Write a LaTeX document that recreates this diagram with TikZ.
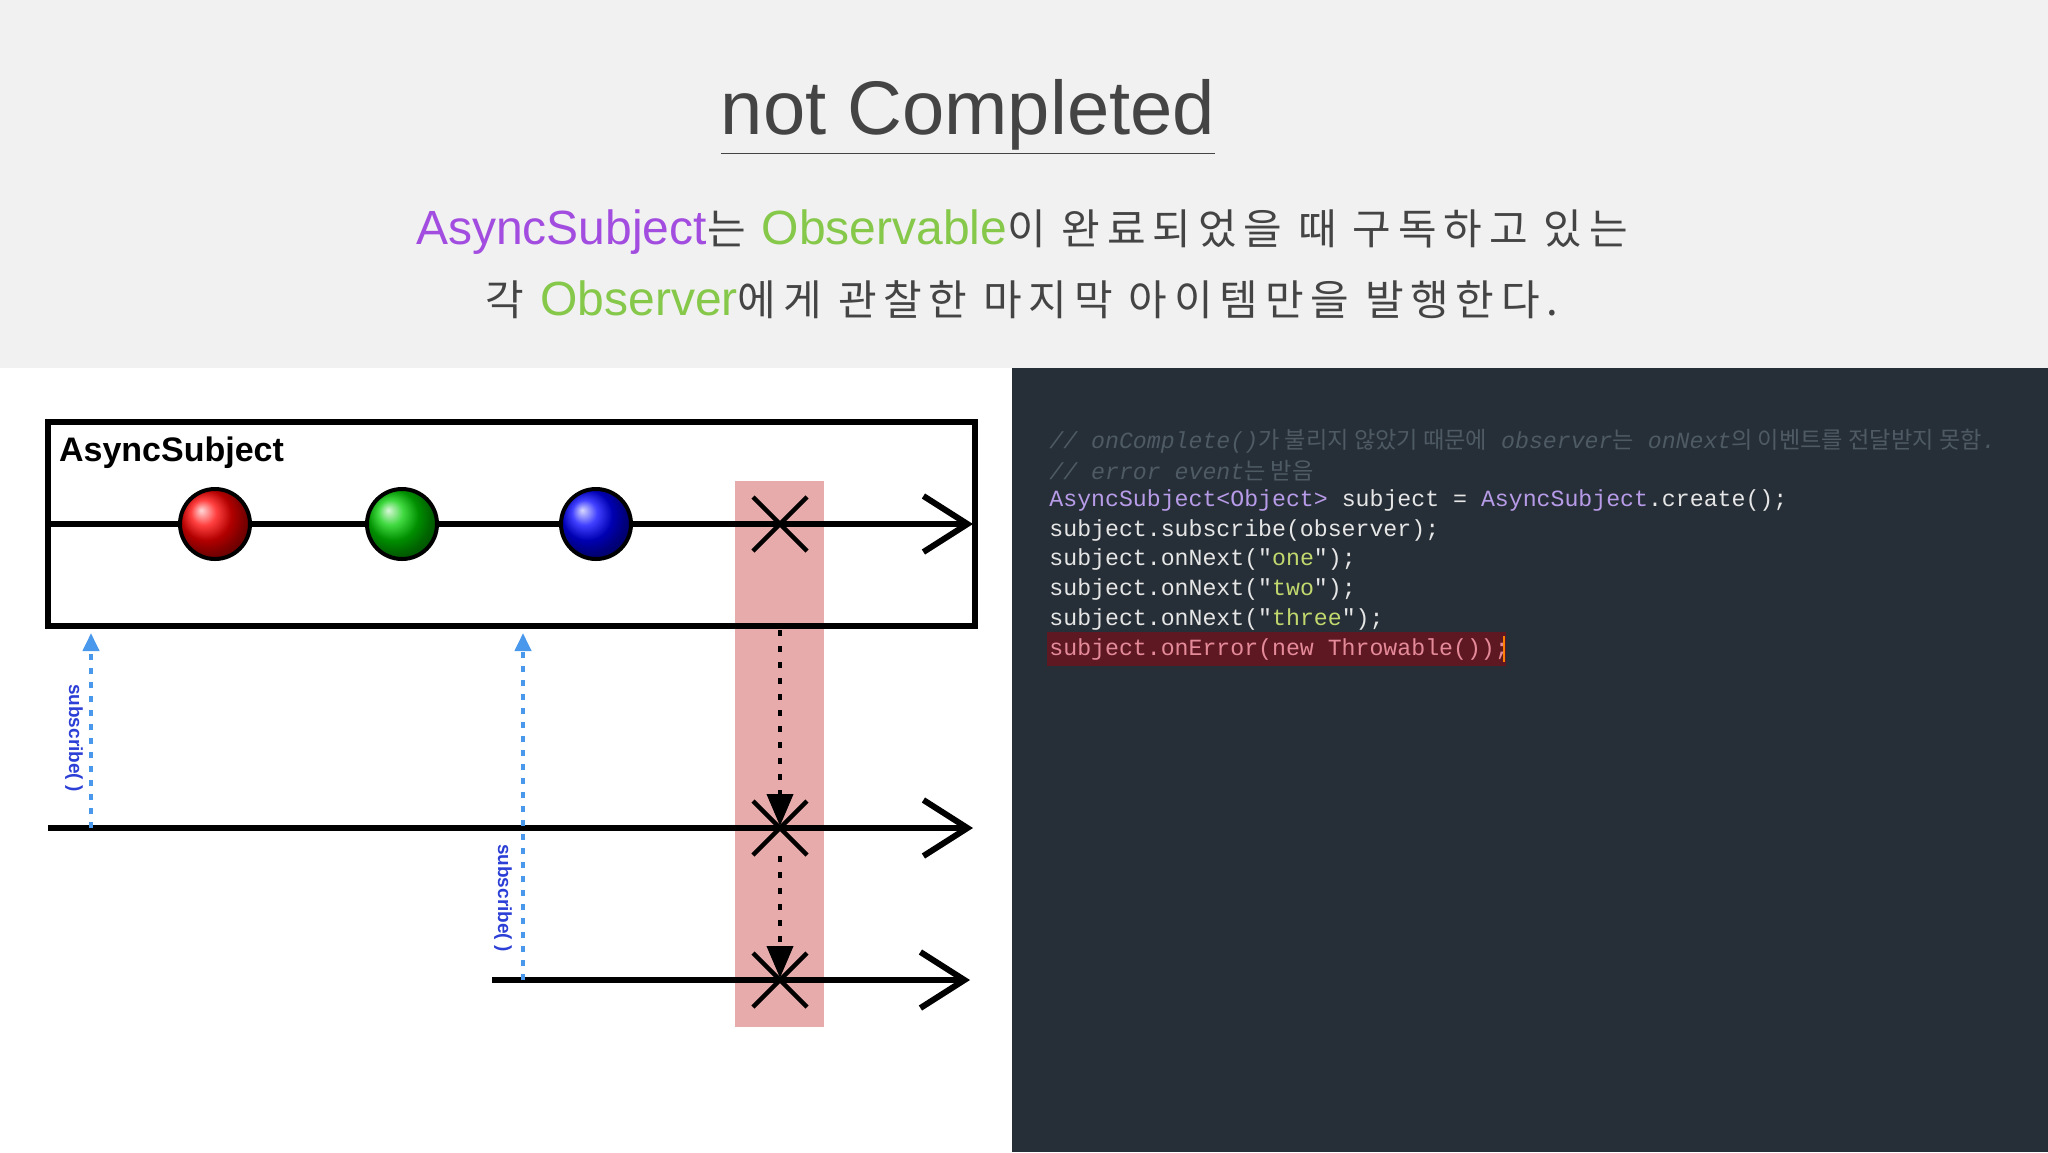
\documentclass[tikz,border=0pt]{standalone}
\usepackage{fontspec}
\setmainfont{Liberation Sans}
\setsansfont{Liberation Sans}
\setmonofont{Liberation Mono}
\newfontfamily\kr[LetterSpace=16]{Noto Sans CJK KR}
\newfontfamily\krc{Noto Sans CJK KR}
\usetikzlibrary{arrows.meta}
\definecolor{bgtop}{HTML}{F1F1F1}
\definecolor{dark}{HTML}{262F37}
\definecolor{ttl}{HTML}{444444}
\definecolor{purp}{HTML}{A24DE0}
\definecolor{grn}{HTML}{86C84A}
\definecolor{cpurp}{HTML}{B89BE8}
\definecolor{cwhite}{HTML}{E6E6E6}
\definecolor{cstr}{HTML}{C2D86E}
\definecolor{ccom}{HTML}{4E5A64}
\definecolor{errbg}{HTML}{5E1822}
\definecolor{errtx}{HTML}{E58A98}
\definecolor{sub}{HTML}{2B3FD6}
\definecolor{subl}{HTML}{4A98EC}
\definecolor{hl}{HTML}{E8ABAB}
\newcommand{\lat}[2]{\textcolor{#1}{\rmfamily\fontsize{24}{28}\selectfont #2}}
\tikzset{
  tl/.style={line width=3pt},
  oarrow/.style={tl,-{Straight Barb[length=22pt,width=28pt,line width=3pt]}},
  xmark/.style={line width=2.2pt},
  sublab/.style={text=sub,font=\sffamily\bfseries\fontsize{9.5}{10}\selectfont,rotate=-90},
  subarr/.style={subl,line width=2pt,dash pattern=on 3pt off 4pt,-{Triangle[length=9pt,width=8pt]}},
  dotarr/.style={black,line width=2pt,dash pattern=on 3pt off 5pt,-{Triangle[length=16pt,width=13pt]}},
  code/.style={anchor=west,font=\ttfamily\fontsize{11.6}{13}\selectfont,inner sep=0pt},
}
\begin{document}
\begin{tikzpicture}[x=0.5pt,y=-0.5pt]
\useasboundingbox (0,0) rectangle (2048,1152);
\fill[bgtop] (0,0) rectangle (2048,368);
\fill[white] (0,368) rectangle (1012,1152);
\fill[dark] (1012,368) rectangle (2048,1152);
% title
\node[text=ttl,font=\fontsize{38}{44}\selectfont] (title) at (968,117) {\underline{not Completed}};
\node[text=ttl,font=\kr\fontsize{21}{26}\selectfont] (l1) at (1022,232) {\lat{purp}{AsyncSubject}는 \lat{grn}{Observable}이 완료되었을 때 구독하고 있는};
\node[text=ttl,font=\kr\fontsize{21}{26}\selectfont] (l2) at (1022,300) {각 \lat{grn}{Observer}에게 관찰한 마지막 아이템만을 발행한다.};
% highlight
\fill[hl] (735,481) rectangle (824,1027);
% box
\draw[tl] (48,422) rectangle (975,626);
\node[anchor=west,font=\sffamily\bfseries\fontsize{17}{20}\selectfont] (lab) at (52,453) {AsyncSubject};
\coordinate (s0) at (48,524); \coordinate (s1) at (973,524);
\draw[oarrow] (s0) -- (s1);
\foreach \x/\c [count=\i] in {215/red,402/green!80!black,596/blue}
  \shade[ball color=\c,draw=black,line width=2pt] (\x,524) circle (35);
\coordinate (o0) at (48,828); \coordinate (o1) at (973,828);
\draw[oarrow] (o0) -- (o1);
\coordinate (p0) at (492,980); \coordinate (p1) at (970,980);
\draw[oarrow] (p0) -- (p1);
% X marks
\foreach \y [count=\i] in {524,828,980}{
  \coordinate (x\i) at (780,\y);
  \draw[xmark] (753,\y-27) -- (807,\y+27) (753,\y+27) -- (807,\y-27);}
\draw[dotarr] (780,630) -- (780,826);
\draw[dotarr] (780,856) -- (780,978);
% subscribe
\coordinate (a1) at (91,828); \coordinate (b1) at (91,633);
\coordinate (a2) at (523,980); \coordinate (b2) at (523,633);
\draw[subarr] (a1) -- (b1);
\draw[subarr] (a2) -- (b2);
\node[sublab] (sl1) at (74,738) {subscribe( )};
\node[sublab] (sl2) at (503,898) {subscribe( )};
% code
\fill[errbg] (1047,632) rectangle (1506,666);
\draw[orange,line width=1pt] (1504,636) -- (1504,662);
\node[code,text=ccom] (c1) at (1049,441) {\itshape // onComplete(){\krc 가 불리지 않았기 때문에} observer{\krc 는} onNext{\krc 의 이벤트를 전달받지 못함}.};
\node[code,text=ccom] (c2) at (1049,471) {\itshape // error event{\krc 는 받음}};
\node[code,text=cwhite] (c3) at (1049,500) {\textcolor{cpurp}{AsyncSubject<Object>} subject = \textcolor{cpurp}{AsyncSubject}.create();};
\node[code,text=cwhite] (c4) at (1049,530) {subject.subscribe(observer);};
\node[code,text=cwhite] (c5) at (1049,559) {subject.onNext("\textcolor{cstr}{one}");};
\node[code,text=cwhite] (c6) at (1049,589) {subject.onNext("\textcolor{cstr}{two}");};
\node[code,text=cwhite] (c7) at (1049,619) {subject.onNext("\textcolor{cstr}{three}");};
\node[code,text=errtx] (c8) at (1049,649) {subject.onError(new Throwable());};
\end{tikzpicture}
\end{document}
